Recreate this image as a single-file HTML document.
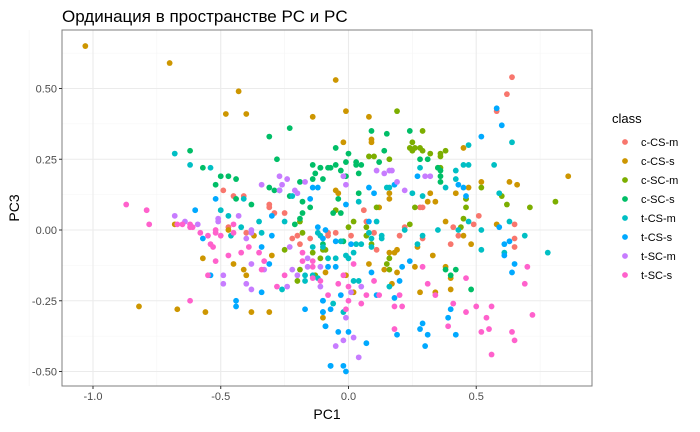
<!DOCTYPE html>
<html><head><meta charset="utf-8"><style>
body{margin:0;background:#fff;}
svg{display:block;font-family:"Liberation Sans",sans-serif;}
</style></head><body>
<svg id="chart" width="700" height="432" xmlns="http://www.w3.org/2000/svg">
<rect width="700" height="432" fill="#fff"/>
<text x="62" y="22" font-size="17" fill="#000">Ординация в пространстве PC и PC</text>
<g id="grid"></g>
<g id="pts"></g>
<rect x="62" y="30" width="530" height="356" fill="none" stroke="#7f7f7f" stroke-width="1"/>
<g id="axes"></g>
<text x="327" y="419" font-size="14" text-anchor="middle" fill="#000">PC1</text>
<text transform="translate(19,208) rotate(-90)" font-size="14" text-anchor="middle" fill="#000">PC3</text>
<g id="legend"></g>
</svg>
<script>
const classes=["c-CS-m","c-CS-s","c-SC-m","c-SC-s","t-CS-m","t-CS-s","t-SC-m","t-SC-s"];
const colors=["#F8766D","#CD9600","#7CAE00","#00BE67","#00BFC4","#00A9FF","#C77CFF","#FF61CC"];
const xTicks=[-1.0,-0.5,0.0,0.5];
const xTickLabels=["-1.0","-0.5","0.0","0.5"];
const yTicks=[0.5,0.25,0,-0.25,-0.5];
const yTickLabels=["0.50","0.25","0.00","-0.25","-0.50"];
const cCSm_x=[-0.49,-0.45,-0.41,-0.31,0.64,0.62,0.58,0.28,0.06,0.29,0.41,0.43,0.40,0.49,0.51,0.65,0.65,0.65,0.29,0.20,0.22,-0.08,-0.08,-0.05,0.01,0.07,0.10,0.11,-0.47,-0.40,-0.31,-0.29,-0.25,-0.22,-0.19,-0.20,-0.15];
const cCSm_y=[0.14,0.12,0.12,0.09,0.54,0.48,0.42,0.08,0.07,0.08,0.01,-0.02,-0.05,0.02,0.05,0.02,-0.03,-0.06,-0.03,-0.02,0.01,-0.01,-0.02,-0.01,-0.02,0.03,-0.01,-0.07,0.01,-0.01,0.08,0.06,0.06,-0.03,-0.05,-0.02,-0.03];
const cCSs_x=[-1.03,-0.70,-0.43,-0.48,-0.40,-0.14,-0.05,-0.01,0.08,0.45,-0.02,0.09,0.09,0.47,0.42,0.46,0.52,0.63,0.66,0.86,0.16,0.16,0.32,0.31,0.34,0.12,-0.04,-0.05,-0.68,-0.47,-0.37,-0.57,-0.45,-0.41,-0.40,-0.30,-0.82,-0.67,-0.56,-0.38,-0.31,0.38,0.45,0.48,0.58,0.27,0.33,0.26,0.19,0.16,0.18,0.19,0.08,0.14,0.38,0.40,0.40,0.28,0.34,0.17,-0.09,-0.01,0.02,-0.10];
const cCSs_y=[0.65,0.59,0.49,0.41,0.41,0.40,0.53,0.42,0.40,0.29,0.31,0.32,0.31,0.15,0.13,0.11,0.17,0.17,0.16,0.19,0.13,0.11,0.13,0.10,0.10,0.08,0.13,0.14,0.02,0.00,-0.02,-0.10,-0.12,-0.14,-0.16,-0.09,-0.27,-0.28,-0.29,-0.29,-0.29,0.03,-0.02,-0.05,0.02,-0.06,-0.09,-0.13,-0.15,-0.08,-0.08,-0.07,-0.12,-0.14,-0.13,-0.17,-0.21,-0.22,-0.22,-0.19,-0.15,-0.16,-0.22,-0.31];
const cSCm_x=[0.19,0.29,0.24,0.25,0.25,0.28,0.29,0.26,0.32,0.36,0.36,0.38,0.08,0.10,0.16,0.36,0.46,0.52,0.60,0.62,0.71,0.81,0.26,0.46,0.02,0.00,0.07,0.07,0.09,0.15,0.16,0.16,0.45,0.44,0.24,-0.10,-0.19,-0.18,-0.25,-0.14,-0.11,-0.09,-0.19,-0.20,-0.13,0.35,-0.05,0.11];
const cSCm_y=[0.42,0.35,0.29,0.31,0.28,0.29,0.28,0.29,0.27,0.27,0.26,0.28,0.26,0.26,0.25,0.22,0.11,0.15,0.12,0.09,0.08,0.10,0.08,0.08,0.03,0.01,0.01,-0.02,-0.05,-0.12,-0.10,-0.14,0.04,0.01,0.02,-0.07,0.03,-0.01,-0.07,-0.08,-0.10,-0.07,-0.14,-0.18,-0.16,0.22,0.07,0.08];
const cSCs_x=[-0.23,-0.31,-0.28,-0.62,-0.57,-0.50,-0.47,-0.44,-0.52,-0.44,-0.38,-0.31,-0.29,-0.19,-0.23,-0.14,-0.13,-0.11,-0.10,-0.14,-0.08,-0.18,-0.15,-0.05,0.09,0.15,0.14,0.24,0.31,0.00,-0.01,0.12,0.28,-0.07,-0.05,0.03,0.03,0.05,-0.11,-0.03,-0.01,0.04,0.04,-0.04,0.35,0.36,0.36,0.36,0.38,0.42,0.40,0.48,-0.03,-0.06,-0.02,-0.10,-0.21,-0.19,-0.18];
const cSCs_y=[0.36,0.33,0.25,0.28,0.22,0.19,0.19,0.18,0.16,0.11,0.09,0.15,0.14,0.17,0.12,0.23,0.20,0.22,0.18,0.18,0.22,0.10,0.08,0.29,0.35,0.34,0.28,0.35,0.25,0.27,0.24,0.24,0.25,0.22,0.23,0.24,0.23,0.23,0.22,0.21,0.19,0.20,0.13,0.11,0.22,0.21,0.19,0.17,-0.14,-0.14,-0.16,-0.21,0.06,0.06,-0.04,-0.05,0.02,0.04,0.06];
const tCSm_x=[-0.68,-0.62,-0.54,-0.41,-0.27,-0.22,0.64,0.47,0.28,0.42,0.42,0.45,0.47,0.57,0.38,0.59,0.25,0.29,0.04,0.15,0.16,-0.50,-0.47,-0.42,-0.46,-0.35,-0.34,-0.26,-0.25,0.35,0.43,0.47,0.52,0.63,0.69,0.78,0.52,0.61,0.27,0.29,0.22,0.16,0.02,0.04,0.13,0.13,0.09,0.05,0.02,-0.01,0.00,-0.05,-0.08,0.03,-0.03,0.09,0.08,0.11,-0.06,-0.02,-0.17,-0.17,-0.14,-0.12,-0.12,-0.11,-0.10,-0.14];
const tCSm_y=[0.27,0.23,0.22,0.11,0.14,0.12,0.31,0.30,0.22,0.21,0.18,0.23,0.23,0.23,0.15,0.13,0.13,0.12,0.10,0.15,0.15,0.07,0.05,0.01,-0.02,0.03,-0.01,-0.21,0.03,0.00,0.00,0.03,0.00,0.03,-0.02,-0.08,-0.07,-0.08,-0.05,-0.02,0.00,-0.20,-0.18,-0.18,-0.03,-0.02,-0.06,-0.05,-0.08,-0.09,-0.10,-0.10,-0.10,-0.05,-0.04,-0.03,-0.01,0.03,-0.26,-0.29,-0.16,-0.18,-0.16,-0.17,-0.01,-0.02,-0.06,-0.06];
const tCSs_x=[-0.52,-0.14,-0.12,-0.15,0.58,0.60,0.52,0.27,0.43,0.45,0.46,0.08,0.10,0.18,-0.01,-0.60,-0.57,-0.34,-0.31,-0.34,-0.54,-0.44,-0.44,-0.30,-0.30,-0.17,-0.10,-0.10,-0.09,-0.07,0.59,0.61,0.63,0.61,0.65,0.64,0.24,0.21,0.09,0.20,0.11,0.18,0.40,0.39,0.42,0.28,0.29,0.31,0.30,0.19,0.07,-0.04,0.00,-0.09,-0.07,-0.07,-0.02,-0.01,-0.05,0.01,0.08,-0.08,-0.05,-0.03,-0.10,-0.10,-0.12,-0.09,-0.10];
const tCSs_y=[0.11,0.15,0.15,0.11,0.43,0.37,0.33,0.19,0.16,0.15,0.12,0.15,0.13,0.16,0.09,0.07,-0.03,-0.06,-0.12,-0.22,-0.16,-0.25,-0.27,0.05,-0.02,-0.28,-0.25,-0.29,-0.34,-0.48,0.01,-0.05,-0.04,-0.09,-0.12,-0.15,-0.11,-0.13,-0.15,-0.18,-0.23,-0.24,-0.28,-0.31,-0.37,-0.35,-0.33,-0.37,-0.41,-0.37,-0.40,-0.36,-0.36,-0.34,-0.28,-0.48,-0.48,-0.50,-0.04,-0.05,0.03,-0.13,-0.13,-0.23,-0.25,-0.29,0.01,0.00,-0.03];
const tSCm_x=[-0.34,-0.27,-0.24,-0.26,-0.27,-0.17,-0.21,-0.20,0.11,0.14,0.16,0.17,0.19,0.22,0.30,0.32,-0.02,-0.01,-0.68,-0.64,-0.59,-0.51,-0.51,-0.43,-0.38,-0.38,-0.40,-0.38,-0.49,-0.49,-0.40,-0.38,-0.33,-0.24,-0.22,-0.23,-0.16,-0.01,-0.02,-0.05,0.02,0.04,0.05,0.01,-0.20,-0.16,-0.11,-0.11];
const tSCm_y=[0.16,0.19,0.18,0.16,0.14,0.17,0.14,0.13,0.21,0.20,0.21,0.21,0.17,0.14,0.19,0.19,0.19,0.16,0.05,0.03,0.02,0.04,0.03,0.05,0.00,-0.01,-0.03,-0.12,-0.16,-0.19,-0.19,-0.21,-0.14,-0.20,-0.14,-0.06,-0.10,-0.31,-0.39,-0.41,-0.38,-0.45,-0.20,-0.22,-0.16,-0.13,-0.13,-0.20];
const tSCs_x=[-0.87,-0.79,-0.78,-0.67,-0.65,-0.62,-0.61,-0.62,-0.58,-0.55,-0.52,-0.52,-0.50,-0.54,-0.53,-0.45,-0.45,-0.39,-0.42,-0.47,-0.52,-0.35,-0.33,-0.34,-0.55,-0.62,-0.28,-0.25,0.29,0.31,0.34,0.46,0.41,0.50,0.56,0.46,0.54,0.39,0.52,0.55,0.64,0.65,0.56,0.69,0.70,0.72,0.18,0.18,0.21,0.20,0.12,0.10,0.07,0.05,0.00,-0.01,-0.02,-0.04,0.02,0.00,-0.18,-0.18,-0.14,-0.14,-0.14,-0.11,-0.08];
const tSCs_y=[0.09,0.07,0.02,0.02,0.02,0.02,0.01,0.01,-0.01,-0.02,-0.01,0.00,-0.02,-0.05,-0.06,0.02,-0.01,-0.06,-0.08,-0.09,-0.11,-0.08,-0.11,-0.14,-0.16,-0.25,-0.20,-0.16,-0.13,-0.19,-0.23,-0.17,-0.26,-0.27,-0.27,-0.29,-0.31,-0.34,-0.36,-0.35,-0.36,-0.39,-0.44,-0.19,-0.13,-0.30,-0.35,-0.27,-0.27,-0.23,-0.23,-0.18,-0.23,-0.26,-0.25,-0.28,-0.16,-0.19,-0.12,-0.20,-0.08,-0.11,-0.11,-0.13,-0.17,-0.18,-0.23];
const seriesX=[cCSm_x,cCSs_x,cSCm_x,cSCs_x,tCSm_x,tCSs_x,tSCm_x,tSCs_x];
const seriesY=[cCSm_y,cCSs_y,cSCm_y,cSCs_y,tCSm_y,tCSs_y,tSCm_y,tSCs_y];

const X0=62,X1=592,Y0=30,Y1=386;
const xMin=-1.1213,xMax=0.9531,yMin=-0.5512,yMax=0.7067;
function sx(v){return X0+(v-xMin)/(xMax-xMin)*(X1-X0);}
function sy(v){return Y1-(v-yMin)/(yMax-yMin)*(Y1-Y0);}
const NS="http://www.w3.org/2000/svg";
function mk(tag,attrs,parent){const e=document.createElementNS(NS,tag);for(const k in attrs)e.setAttribute(k,attrs[k]);parent.appendChild(e);return e;}
const grid=document.getElementById('grid');
const bg=mk('rect',{x:X0,y:Y0,width:X1-X0,height:Y1-Y0,fill:'#fff'},grid);


for(let i=0;i<xTicks.length;i++){
  const xm=sx(xTicks[i]+0.25);
  const m=mk('line',{x1:xm,x2:xm,y1:Y0,y2:Y1,stroke:'#f4f4f4','stroke-width':0.6},grid);
  
  
}
const xm0=sx(xTicks[0]-0.25);
const mm=mk('line',{x1:xm0,x2:xm0,y1:Y0,y2:Y1,stroke:'#f4f4f4','stroke-width':0.6},grid);


for(let i=0;i<yTicks.length-1;i++){
  const ym=sy(yTicks[i]-0.125);
  const m=mk('line',{x1:X0,x2:X1,y1:ym,y2:ym,stroke:'#f4f4f4','stroke-width':0.6},grid);
  
  
}
const ym0=sy(yTicks[0]+0.125);
const ymm=mk('line',{x1:X0,x2:X1,y1:ym0,y2:ym0,stroke:'#f4f4f4','stroke-width':0.6},grid);


const axes=document.getElementById('axes');
for(let i=0;i<xTicks.length;i++){
  const x=sx(xTicks[i]);
  const g=mk('line',{x1:x,x2:x,y1:Y0,y2:Y1,stroke:'#ebebeb','stroke-width':1.1},grid);
  
  
  const t=mk('line',{x1:x,x2:x,y1:Y1,y2:Y1+3,stroke:'#333','stroke-width':1},axes);
  
  
  const l=mk('text',{x:x,y:Y1+14,'font-size':11,'text-anchor':'middle',fill:'#4d4d4d'},axes);
  l.textContent=xTickLabels[i];
  
  
}
for(let i=0;i<yTicks.length;i++){
  const y=sy(yTicks[i]);
  const g=mk('line',{x1:X0,x2:X1,y1:y,y2:y,stroke:'#ebebeb','stroke-width':1.1},grid);
  
  
  const t=mk('line',{x1:X0-3,x2:X0,y1:y,y2:y,stroke:'#333','stroke-width':1},axes);
  
  
  const l=mk('text',{x:X0-5,y:y+4,'font-size':11,'text-anchor':'end',fill:'#4d4d4d'},axes);
  l.textContent=yTickLabels[i];
  
  
}
const pts=document.getElementById('pts');
for(let s=0;s<seriesX.length;s++){
  for(let i=0;i<seriesX[s].length;i++){
    const c=mk('circle',{cx:sx(seriesX[s][i]),cy:sy(seriesY[s][i]),r:2.9,fill:colors[s]},pts);
    
    
  }
}
const lg=document.getElementById('legend');
const lt=mk('text',{x:612,y:123,'font-size':13,fill:'#000'},lg);
lt.textContent='class';


for(let i=0;i<classes.length;i++){
  const y=142+i*19;
  const d=mk('circle',{cx:625,cy:y,r:2.9,fill:colors[i]},lg);
  
  
  const t=mk('text',{x:641,y:y+4,'font-size':11,fill:'#000'},lg);
  t.textContent=classes[i];
  
  
}
</script>
</body></html>
